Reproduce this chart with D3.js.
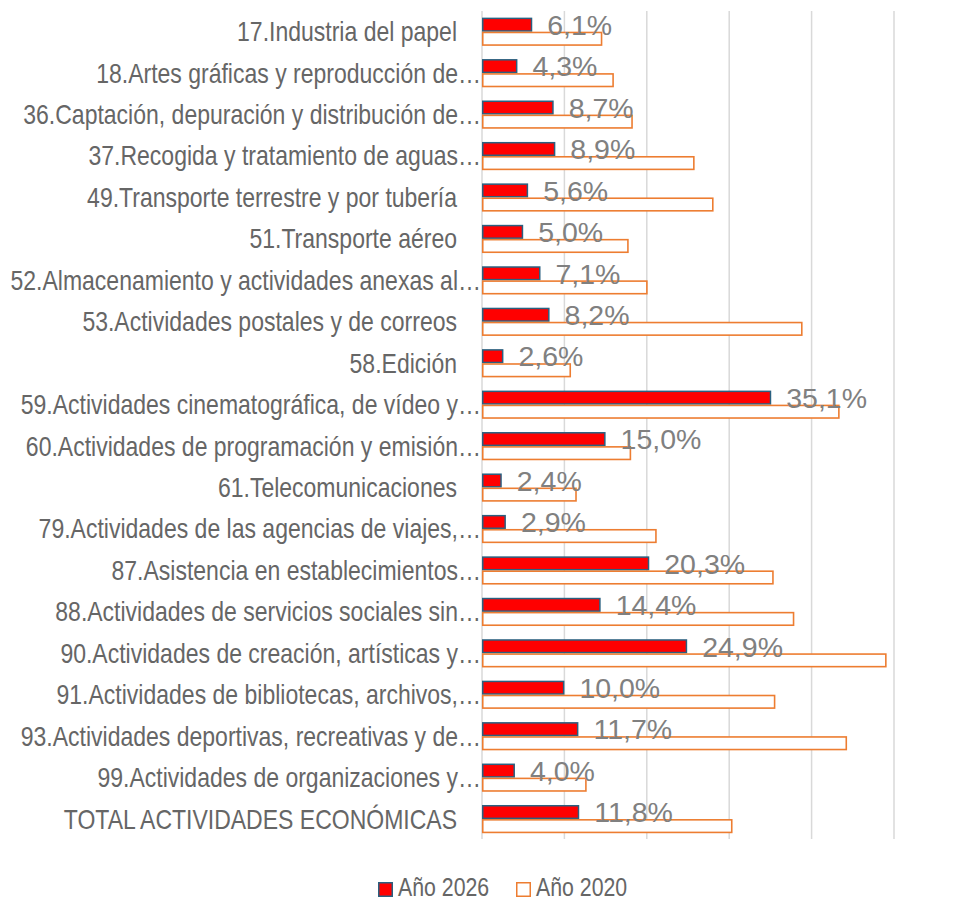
<!DOCTYPE html>
<html><head><meta charset="utf-8">
<script src="https://cdn.jsdelivr.net/npm/d3@7"></script>
<style>
html,body{margin:0;padding:0;background:#fff;}
svg{display:block;}
</style></head>
<body>
<svg id="chart" width="963" height="901"></svg>
<script>
const categories = [
 "17.Industria del papel",
 "18.Artes gráficas y reproducción de…",
 "36.Captación, depuración y distribución de…",
 "37.Recogida y tratamiento de aguas…",
 "49.Transporte terrestre y por tubería",
 "51.Transporte aéreo",
 "52.Almacenamiento y actividades anexas al…",
 "53.Actividades postales y de correos",
 "58.Edición",
 "59.Actividades cinematográfica, de vídeo y…",
 "60.Actividades de programación y emisión…",
 "61.Telecomunicaciones",
 "79.Actividades de las agencias de viajes,…",
 "87.Asistencia en establecimientos…",
 "88.Actividades de servicios sociales sin…",
 "90.Actividades de creación, artísticas y…",
 "91.Actividades de bibliotecas, archivos,…",
 "93.Actividades deportivas, recreativas y de…",
 "99.Actividades de organizaciones y…",
 "TOTAL ACTIVIDADES ECONÓMICAS"
];
const values2026 = [6.1,4.3,8.7,8.9,5.6,5.0,7.1,8.2,2.6,35.1,15.0,2.4,2.9,20.3,14.4,24.9,10.0,11.7,4.0,11.8];
const values2020 = [14.6,16.0,18.3,25.8,28.1,17.8,20.1,38.9,10.8,43.4,18.1,11.5,21.2,35.4,37.9,49.1,35.6,44.3,12.7,30.4];
const seriesNames = ["Año 2026","Año 2020"];
const xTicks = [0,10,20,30,40,50];

const svg = d3.select("#chart");
const font = "'Liberation Sans',Arial,sans-serif";
const narrow = 0.852;

const x = d3.scaleLinear().domain([0,50]).range([482,894]);
const y = d3.scaleBand().domain(categories).range([11,839.8]).paddingInner(0.32).paddingOuter(0.16);
const ys = d3.scaleBand().domain(seriesNames).range([0,y.bandwidth()]);

// gridlines
svg.append("g").selectAll("line").data(xTicks).join("line")
  .attr("x1",d=>x(d)).attr("x2",d=>x(d)).attr("y1",11).attr("y2",839)
  .attr("stroke","#d9d9d9").attr("stroke-width",1.5);

const rows = categories.map((c,i)=>({c, v26:values2026[i], v20:values2020[i]}));

// 2026 bars
svg.append("g").selectAll("rect").data(rows).join("rect")
  .attr("x",x(0)+0.75).attr("y",d=>y(d.c)+ys(seriesNames[0])+0.75)
  .attr("width",d=>x(d.v26)-x(0)-1.5).attr("height",ys.bandwidth()-1.5)
  .attr("fill","#ff0000").attr("stroke","#2a6080").attr("stroke-width",1.5);

// 2020 bars
svg.append("g").selectAll("rect").data(rows).join("rect")
  .attr("x",x(0)+0.75).attr("y",d=>y(d.c)+ys(seriesNames[1])+0.75)
  .attr("width",d=>x(d.v20)-x(0)-1.5).attr("height",ys.bandwidth()-1.5)
  .attr("fill","#ffffff").attr("stroke","#ed7d31").attr("stroke-width",1.6);

// data labels
const fmt = v => d3.format(".1f")(v).replace(".",",")+"%";
svg.append("g").selectAll("text").data(rows).join("text")
  .attr("x",d=>x(d.v26)+15).attr("y",d=>y(d.c)+ys(seriesNames[0])+ys.bandwidth()/2)
  .attr("dy","0.36em")
  .attr("font-family",font).attr("font-size",28.5).attr("fill","#808080")
  .text(d=>fmt(d.v26));

// category labels (condensed)
svg.append("g").selectAll("text").data(rows).join("text")
  .attr("transform",d=>`translate(${d.c.endsWith("…")?481:457},${y(d.c)+y.bandwidth()/2}) scale(${narrow},1)`)
  .attr("dy","0.35em").attr("text-anchor","end")
  .attr("font-family",font).attr("font-size",27).attr("fill","#666666")
  .text(d=>d.c);

// legend
const leg = svg.append("g");
const legItems = [
  {name:seriesNames[0], x:378, fill:"#ff0000", stroke:"#2a6080"},
  {name:seriesNames[1], x:516, fill:"#ffffff", stroke:"#ed7d31"}
];
leg.selectAll("rect").data(legItems).join("rect")
  .attr("x",d=>d.x+0.75).attr("y",882.75).attr("width",13.5).attr("height",13.5)
  .attr("fill",d=>d.fill).attr("stroke",d=>d.stroke).attr("stroke-width",1.5);
leg.selectAll("text").data(legItems).join("text")
  .attr("transform",d=>`translate(${d.x+20},896) scale(${narrow},1)`)
  .attr("font-family",font).attr("font-size",25).attr("fill","#666666")
  .text(d=>d.name);
</script>
</body></html>
